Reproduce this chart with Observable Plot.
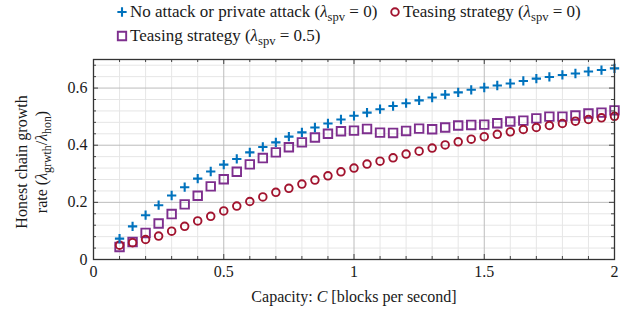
<!DOCTYPE html>
<html><head><meta charset="utf-8">
<script src="https://cdn.jsdelivr.net/npm/d3@7"></script>
<script src="https://cdn.jsdelivr.net/npm/@observablehq/plot@0.6"></script>
<style>body{margin:0;background:#fff}#c{width:638px;height:318px}svg text{font-family:"Liberation Serif",serif}</style>
</head><body><div id="c"></div>
<script>
const capacity = [0.1,0.15,0.2,0.25,0.3,0.35,0.4,0.45,0.5,0.55,0.6,0.65,0.7,0.75,0.8,0.85,0.9,0.95,1.0,1.05,1.1,1.15,1.2,1.25,1.3,1.35,1.4,1.45,1.5,1.55,1.6,1.65,1.7,1.75,1.8,1.85,1.9,1.95,2.0];
const noAttack = [0.073,0.116,0.155,0.19,0.224,0.253,0.283,0.308,0.332,0.352,0.375,0.394,0.41,0.43,0.445,0.462,0.476,0.49,0.503,0.514,0.526,0.537,0.547,0.557,0.567,0.577,0.585,0.594,0.602,0.609,0.616,0.625,0.633,0.639,0.646,0.651,0.658,0.663,0.669];
const teasing0 = [0.05,0.059,0.07,0.082,0.099,0.116,0.135,0.151,0.17,0.187,0.203,0.219,0.235,0.249,0.264,0.278,0.293,0.307,0.32,0.334,0.344,0.356,0.369,0.379,0.39,0.401,0.412,0.421,0.43,0.438,0.447,0.455,0.462,0.469,0.476,0.484,0.49,0.496,0.501];
const teasing05 = [0.044,0.061,0.093,0.126,0.159,0.193,0.223,0.256,0.281,0.307,0.333,0.355,0.375,0.393,0.41,0.427,0.44,0.449,0.451,0.457,0.444,0.443,0.45,0.458,0.456,0.462,0.469,0.471,0.472,0.477,0.483,0.486,0.494,0.5,0.5,0.504,0.511,0.514,0.522];
const xMajorTicks = [0,0.5,1,1.5,2];
const xTickLabels = ["0","0.5","1","1.5","2"];
const yMajorTicks = [0,0.2,0.4,0.6];
const yTickLabels = ["0","0.2","0.4","0.6"];
const xMinorTicks = [0.1,0.2,0.3,0.4,0.6,0.7,0.8,0.9,1.1,1.2,1.3,1.4,1.6,1.7,1.8,1.9];
const yMinorTicks = [0.04,0.08,0.12,0.16,0.24,0.28,0.32,0.36,0.44,0.48,0.52,0.56,0.64,0.68];
const seriesNames = ["No attack or private attack", "Teasing strategy", "Teasing strategy"];
const seriesLambda = ["0", "0", "0.5"];

const BLUE = "#0072BD", RED = "#A2142F", PURPLE = "#7E2F8E";
const FONT = "Liberation Serif";
const FS = 16, LFS = 17;
const rows = arr => capacity.map((c, i) => ({c, v: arr[i]}));
const plotH = 200;

const chart = Plot.plot({
  width: 638, height: 318,
  marginLeft: 93, marginRight: 24, marginTop: 59, marginBottom: 59,
  style: {fontFamily: FONT, fontSize: FS + "px", color: "#1a1a1a", background: "#fff"},
  x: {domain: [0, 2]},
  y: {domain: [0, 0.7]},
  marks: [
    Plot.ruleX(xMinorTicks, {stroke: "#e6e6e6", strokeWidth: 1}),
    Plot.ruleY(yMinorTicks, {stroke: "#e6e6e6", strokeWidth: 1}),
    Plot.ruleX(xMajorTicks, {stroke: "#bcbcbc", strokeWidth: 1}),
    Plot.ruleY(yMajorTicks, {stroke: "#bcbcbc", strokeWidth: 1}),
    Plot.tickX(xMinorTicks, {x: d => d, insetTop: plotH - 3, stroke: "#444"}),
    Plot.tickX(xMinorTicks, {x: d => d, insetBottom: plotH - 3, stroke: "#444"}),
    Plot.tickX(xMajorTicks, {x: d => d, insetTop: plotH - 5, stroke: "#444"}),
    Plot.tickX(xMajorTicks, {x: d => d, insetBottom: plotH - 5, stroke: "#444"}),
    Plot.tickY(yMinorTicks, {y: d => d, insetRight: 521 - 3, stroke: "#444"}),
    Plot.tickY(yMinorTicks, {y: d => d, insetLeft: 521 - 3, stroke: "#444"}),
    Plot.tickY(yMajorTicks, {y: d => d, insetRight: 521 - 5, stroke: "#444"}),
    Plot.tickY(yMajorTicks, {y: d => d, insetLeft: 521 - 5, stroke: "#444"}),
    Plot.axisX(xMajorTicks, {tickSize: 0, tickPadding: 6, label: null, tickFormat: d => xTickLabels[xMajorTicks.indexOf(d)]}),
    Plot.axisY(yMajorTicks, {tickSize: 0, tickPadding: 6, label: null, tickFormat: d => yTickLabels[yMajorTicks.indexOf(d)]}),
    Plot.dot(rows(teasing05), {x: "c", y: "v", symbol: "square", r: 4.8, stroke: PURPLE, strokeWidth: 1.9, fill: "none"}),
    Plot.dot(rows(teasing0), {x: "c", y: "v", symbol: "circle", r: 3.8, stroke: RED, strokeWidth: 1.9, fill: "none"}),
    Plot.dot(rows(noAttack), {x: "c", y: "v", symbol: "plus", r: 3.1, stroke: BLUE, strokeWidth: 2.1, fill: "none"}),
    Plot.frame({stroke: "#333", strokeWidth: 1.3})
  ]
});
document.getElementById("c").appendChild(chart);

const svg = d3.select(chart);
function rich(g, parts, size) {
  const t = g.append("text").attr("font-family", FONT).attr("font-size", size).attr("fill", "#1a1a1a");
  let shifted = 0;
  parts.forEach(p => {
    const s = t.append("tspan").text(p.t);
    if (p.i) s.attr("font-style", "italic");
    if (p.sub) { s.attr("font-size", size * 0.74).attr("dy", 3.5); shifted = 3.5; }
    else if (shifted) { s.attr("dy", -shifted); shifted = 0; }
  });
  return t;
}
function lambdaParts(name, sub, val) {
  return [{t: name + " ("}, {t: "λ", i: true}, {t: sub, sub: true}, {t: " = " + val + ")"}];
}
// Legend
const legend = [
  {x: 122, y: 12, sym: d3.symbolPlus, size: 30, color: BLUE, sw: 2.1, k: 0},
  {x: 395, y: 12, sym: d3.symbolCircle, size: 45, color: RED, sw: 1.9, k: 1},
  {x: 122, y: 36, sym: d3.symbolSquare, size: 70, color: PURPLE, sw: 1.9, k: 2}
];
legend.forEach(L => {
  const g = svg.append("g");
  g.append("path").attr("d", d3.symbol(L.sym, L.size)()).attr("transform", `translate(${L.x},${L.y})`)
    .attr("fill", "none").attr("stroke", L.color).attr("stroke-width", L.sw);
  rich(g, lambdaParts(seriesNames[L.k], "spv", seriesLambda[L.k]), LFS)
    .attr("text-anchor", "start").attr("x", L.x + 8).attr("y", L.y + 5);
});
// x title
const xt = svg.append("text").attr("font-family", FONT).attr("font-size", FS).attr("fill", "#1a1a1a")
  .attr("text-anchor", "middle").attr("x", 354).attr("y", 302);
xt.append("tspan").text("Capacity: ");
xt.append("tspan").attr("font-style", "italic").text("C");
xt.append("tspan").text(" [blocks per second]");
// y title
const yg = svg.append("g").attr("transform", "translate(27,162) rotate(-90)");
yg.append("text").attr("font-family", FONT).attr("font-size", FS).attr("fill", "#1a1a1a")
  .attr("text-anchor", "middle").text("Honest chain growth");
rich(yg, [{t: "rate ("}, {t: "λ", i: true}, {t: "grwth", sub: true}, {t: "/"}, {t: "λ", i: true}, {t: "hon", sub: true}, {t: ")"}], FS)
  .attr("text-anchor", "middle").attr("y", 20);
</script>
</body></html>
